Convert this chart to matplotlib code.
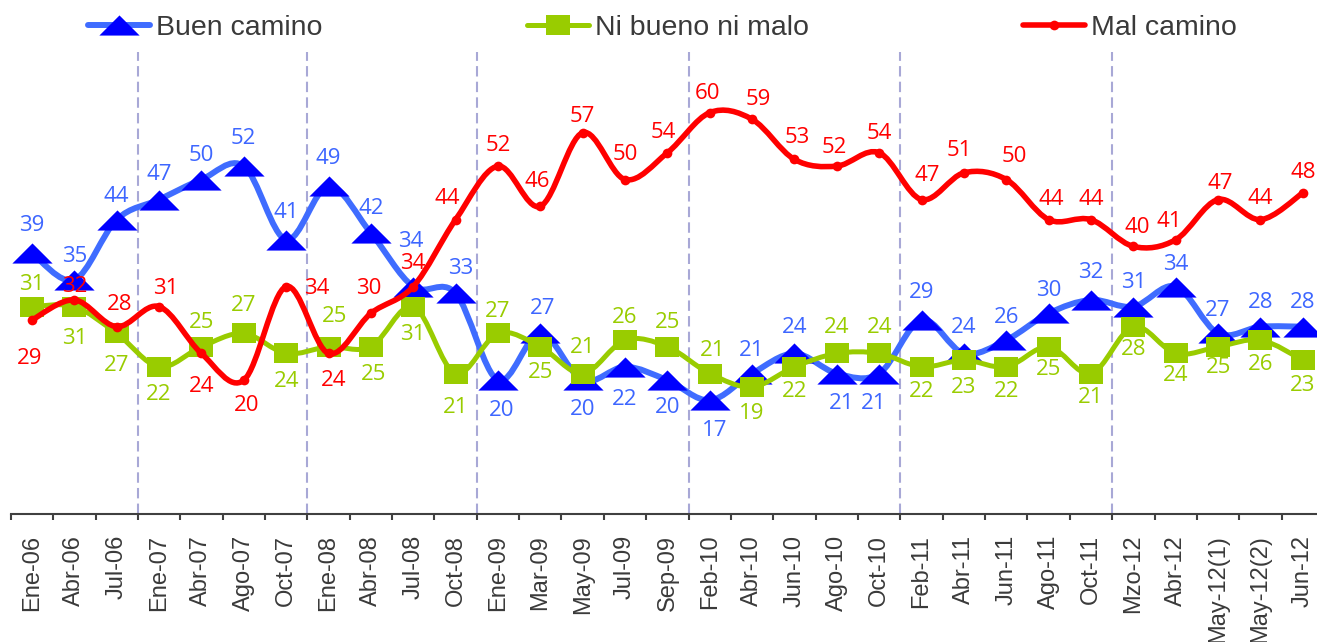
import numpy as np
import matplotlib
matplotlib.use('Agg')
import matplotlib.pyplot as plt
from matplotlib.path import Path
from matplotlib.patches import PathPatch
from matplotlib.lines import Line2D
from matplotlib import font_manager

categories = ['Ene-06', 'Abr-06', 'Jul-06', 'Ene-07', 'Abr-07', 'Ago-07', 'Oct-07',
              'Ene-08', 'Abr-08', 'Jul-08', 'Oct-08', 'Ene-09', 'Mar-09', 'May-09',
              'Jul-09', 'Sep-09', 'Feb-10', 'Abr-10', 'Jun-10', 'Ago-10', 'Oct-10',
              'Feb-11', 'Abr-11', 'Jun-11', 'Ago-11', 'Oct-11', 'Mzo-12', 'Abr-12',
              'May-12(1)', 'May-12(2)', 'Jun-12']

buen = [39, 35, 44, 47, 50, 52, 41, 49, 42, 34, 33, 20, 27, 20, 22, 20, 17, 21, 24, 21,
        21, 29, 24, 26, 30, 32, 31, 34, 27, 28, 28]
ni = [31, 31, 27, 22, 25, 27, 24, 25, 25, 31, 21, 27, 25, 21, 26, 25, 21, 19, 22, 24,
      24, 22, 23, 22, 25, 21, 28, 24, 25, 26, 23]
mal = [29, 32, 28, 31, 24, 20, 34, 24, 30, 34, 44, 52, 46, 57, 50, 54, 60, 59, 53, 52,
       54, 47, 51, 50, 44, 44, 40, 41, 47, 44, 48]

# year separators (between categories)
separators = [2.5, 6.5, 10.5, 15.5, 20.5, 25.5]

# label offsets in pixels (dx, dy), dy > 0 means downwards
buen_off = [(0, -28), (0, -23), (0, -23), (0, -25), (0, -24), (0, -28), (0, -27), (0, -28),
            (0, -25), (-2, -45), (5, -25), (4, 30), (2, -25), (0, 29), (0, 33), (0, 27),
            (5, 30), (0, -23), (0, -26), (5, 30), (-6, 30), (0, -27), (0, -26), (0, -23),
            (0, -23), (0, -27), (0, -24), (0, -22), (0, -23), (0, -24), (0, -24)]
ni_off = [(0, -22), (0, 32), (0, 32), (0, 28), (0, -24), (0, -28), (0, 28), (6, -30),
          (3, 28), (0, 28), (0, 34), (0, -22), (0, 26), (0, -26), (0, -23), (0, -24),
          (3, -23), (0, 27), (0, 25), (0, -26), (0, -26), (0, 25), (0, 27), (0, 25),
          (0, 23), (0, 24), (0, 23), (0, 22), (0, 21), (0, 24), (0, 25)]
mal_off = [(-2, 39), (0, -13), (3, -22), (7, -18), (0, 33), (3, 25), (31, 2), (5, 27),
           (-2, -25), (0, -23), (-8, -21), (0, -21), (-3, -25), (0, -16), (0, -25), (-4, -20),
           (-2, -19), (6, -20), (3, -22), (-3, -19), (0, -19), (6, -24), (-5, -22), (8, -23),
           (3, -20), (0, -20), (4, -19), (-6, -18), (2, -16), (0, -21), (0, -20)]

blue_line = '#3f6cff'
blue_mk = '#0000ff'
blue_txt = '#3d66ff'
green = '#99cc00'
red = '#ff0000'
sep_col = '#a8a8d6'
txt_col = '#3a3a3a'

names = {f.name for f in font_manager.fontManager.ttflist}
if 'Liberation Sans Narrow' in names:
    leg_font, leg_size = 'Liberation Sans Narrow', 24
else:
    leg_font, leg_size = 'Liberation Sans', 20.5

tri = [(-2, -1), (2, -1), (0, 1), (-2, -1)]
rect = [(-1.25, -1), (1.25, -1), (1.25, 1), (-1.25, 1), (-1.25, -1)]


def smooth_path(xs, ys):
    pts = np.column_stack([xs, ys]).astype(float)
    n = len(pts)
    verts = [pts[0]]
    codes = [Path.MOVETO]
    for i in range(n - 1):
        p0 = pts[max(i - 1, 0)]
        p1 = pts[i]
        p2 = pts[i + 1]
        p3 = pts[min(i + 2, n - 1)]
        verts += [p1 + (p2 - p0) / 6, p2 - (p3 - p1) / 6, p2]
        codes += [Path.CURVE4] * 3
    return Path(verts, codes)


fig = plt.figure(figsize=(13.17, 6.42), dpi=100)
W, H = 1317, 642
ax = fig.add_axes([10.8 / W, (H - 514) / H, 1313.2 / W, 462 / H])
ax.set_xlim(-0.5, 30.5)
ax.set_ylim(0, 69.06)
x = np.arange(len(categories))

for s in separators:
    ax.axvline(s, color=sep_col, lw=1.5, linestyle=(0, (5, 2.5)), zorder=1)

series = [
    (buen, blue_line, 4.3, tri, 29, blue_mk, blue_txt, buen_off, 2),
    (ni, green, 3.6, rect, 17.3, green, green, ni_off, 3),
    (mal, red, 4.0, 'o', 7, red, red, mal_off, 4),
]
for vals, lc, lw, mk, ms, mc, tc, offs, z in series:
    ax.add_patch(PathPatch(smooth_path(x, vals), fill=False, edgecolor=lc, lw=lw,
                           capstyle='round', joinstyle='round', zorder=z))
    ax.plot(x, vals, linestyle='none', marker=mk, markersize=ms, mfc=mc, mec=mc,
            mew=0, zorder=z + 0.1)
    for xi, v, (dx, dy) in zip(x, vals, offs):
        ax.annotate(str(v), (xi, v), xytext=(dx * 0.72, -dy * 0.72),
                    textcoords='offset points', ha='center', va='center',
                    fontsize=16, family='Open Sans', color=tc, zorder=6)

for sp in ['top', 'left', 'right']:
    ax.spines[sp].set_visible(False)
ax.spines['bottom'].set_color('#404040')
ax.spines['bottom'].set_linewidth(1.5)
ax.set_yticks([])
ax.set_xticks(x)
ax.set_xticklabels(categories, rotation=90, family='Liberation Sans', fontsize=17,
                   color=txt_col, va='top')
ax.set_xticks(np.arange(-0.5, 31, 1), minor=True)
ax.tick_params(axis='x', which='major', length=0, pad=15)
ax.tick_params(axis='x', which='minor', length=4.3, width=1.5, color='#404040',
               direction='out')

# legend, one entry at a time
entries = [
    ('Buen camino', blue_line, 4.3, tri, 29, blue_mk, 88),
    ('Ni bueno ni malo', green, 3.6, rect, 17.3, green, 527),
    ('Mal camino', red, 4.0, 'o', 7, red, 1023),
]
for lab, lc, lw, mk, ms, mc, px in entries:
    h = Line2D([0], [0], color=lc, lw=lw, marker=mk, markersize=ms, mfc=mc, mec=mc,
               mew=0, solid_capstyle='round')
    fig.legend(handles=[h], labels=[lab], loc='center left',
               bbox_to_anchor=(px / W, 1 - 28 / H), frameon=False, borderpad=0,
               borderaxespad=0, handlelength=2.18, handletextpad=0.21,
               prop={'family': leg_font, 'size': leg_size}, labelcolor=txt_col)

fig.savefig('out.png', dpi=100)
